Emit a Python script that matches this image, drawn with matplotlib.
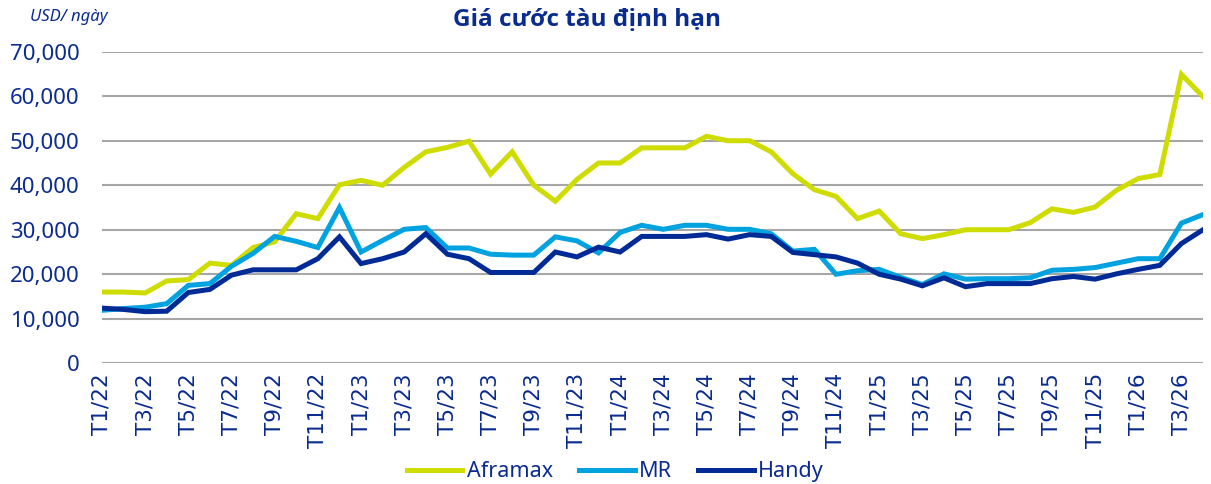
import matplotlib.pyplot as plt
from matplotlib.ticker import FuncFormatter

plt.rcParams['font.family'] = ['Noto Sans', 'DejaVu Sans']

# months T1/22 .. T4/26
months = [f"T{m}/{y}" for y in range(22, 27) for m in range(1, 13)][:52]

aframax = [16000, 16000, 15800, 18500, 18800, 22500, 22000, 26000, 27300, 33600,
           32500, 40100, 41100, 40000, 44000, 47500, 48500, 49900, 42500, 47500,
           40000, 36400, 41300, 45000, 45000, 48400, 48400, 48400, 51000, 50000,
           50000, 47500, 42600, 39000, 37500, 32500, 34200, 29100, 28000, 28900,
           30000, 30000, 30000, 31600, 34700, 33900, 35100, 38900, 41500, 42400,
           64900, 59900]
mr = [11900, 12300, 12600, 13400, 17500, 17900, 21800, 24700, 28500, 27400,
      26000, 35000, 25000, 27600, 30100, 30500, 25900, 25900, 24500, 24300,
      24300, 28400, 27500, 24800, 29400, 31000, 30100, 31000, 31000, 30100,
      30100, 29100, 25200, 25600, 20000, 20800, 21100, 19300, 17700, 20100,
      18900, 19000, 19000, 19200, 20900, 21100, 21500, 22500, 23500, 23500,
      31500, 33400]
handy = [12400, 12100, 11600, 11700, 15900, 16600, 19800, 21000, 21000, 21000,
         23500, 28400, 22400, 23500, 25000, 29100, 24500, 23500, 20400, 20400,
         20400, 25000, 23900, 26100, 25000, 28500, 28500, 28500, 28900, 27900,
         28900, 28500, 24900, 24400, 23900, 22500, 20000, 18900, 17400, 19200,
         17200, 17900, 17900, 17900, 19000, 19500, 18900, 20100, 21100, 22000,
         26900, 30000]

NAVY = '#0a2b8f'
series = [('Aframax', aframax, '#cedc00'),
          ('MR', mr, '#00a3df'),
          ('Handy', handy, '#002a95')]

fig = plt.figure(figsize=(12.11, 4.84), dpi=100)
ax = fig.add_axes([0.0842, 0.2494, 0.9092, 0.6438])

x = list(range(len(months)))
for name, vals, col in series:
    ax.plot(x, vals, color=col, lw=3.6, label=name, solid_joinstyle='miter')

ax.set_xlim(0, len(months) - 1)
ax.set_ylim(0, 70000)
ax.set_yticks(range(0, 70001, 10000))
ax.yaxis.set_major_formatter(FuncFormatter(lambda v, p: f"{int(v):,}"))
ax.set_xticks(x[::2])
ax.set_xticklabels(months[::2], rotation=90, family='DejaVu Sans')
ax.tick_params(axis='y', length=0, pad=16, labelsize=16, labelcolor=NAVY)
ax.tick_params(axis='x', length=0, pad=7, labelsize=15.5, labelcolor=NAVY)
ax.grid(axis='y', color='#a6a6a6', lw=1.5)
ax.set_axisbelow(True)
for s in ax.spines.values():
    s.set_visible(False)

fig.text(0.485, 0.958, 'Giá cước tàu định hạn', ha='center', va='center',
         fontsize=17.5, fontweight='bold', color=NAVY,
         family=['Open Sans', 'DejaVu Sans'])
fig.text(0.025, 0.965, 'USD/ ngày', ha='left', va='center',
         fontsize=12, fontstyle='italic', color=NAVY)

fig.legend(loc='center', bbox_to_anchor=(0.508, 0.025), ncol=3, frameon=False,
           fontsize=15.5, handlelength=2.6, handletextpad=0.2, columnspacing=1.2,
           labelcolor=NAVY)

fig.savefig('out.png', dpi=100)
